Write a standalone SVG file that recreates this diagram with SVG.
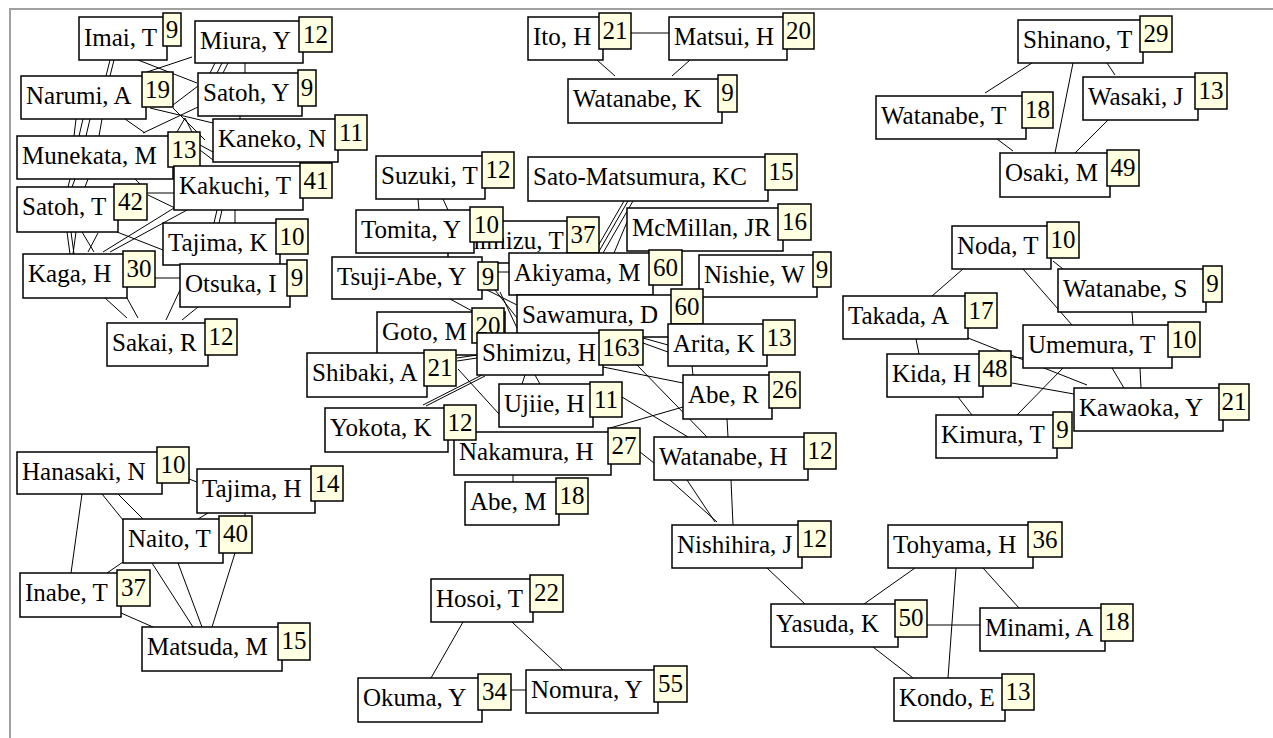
<svg xmlns="http://www.w3.org/2000/svg" width="1273" height="738" viewBox="0 0 1273 738">
<style>
.b{fill:#fff;stroke:#000;stroke-width:1.5}
.c{fill:#ffffe1;stroke:#000;stroke-width:1.5}
text{font-family:"Liberation Serif","Times New Roman",serif;font-size:25px;fill:#000}
.m{text-anchor:middle}
#edges line{stroke:#000;stroke-width:1}
</style>
<rect x="0" y="0" width="1273" height="738" fill="#fff"/>
<path d="M10,738 V9 H1273" fill="none" stroke="#a0a0a0" stroke-width="2"/>
<g id="edges">
<line x1="110" y1="60" x2="106" y2="76"/><line x1="114" y1="60" x2="110" y2="76"/>
<line x1="138" y1="60" x2="197" y2="83"/>
<line x1="192" y1="57" x2="147" y2="72"/>
<line x1="215" y1="63" x2="210" y2="73"/><line x1="222" y1="63" x2="217" y2="73"/><line x1="228" y1="63" x2="223" y2="73"/>
<line x1="245" y1="63" x2="245" y2="73"/>
<line x1="173" y1="105" x2="198" y2="86"/>
<line x1="76" y1="119" x2="74" y2="136"/><line x1="83" y1="119" x2="79" y2="136"/><line x1="90" y1="119" x2="86" y2="136"/><line x1="102" y1="119" x2="99" y2="136"/>
<line x1="125" y1="119" x2="145" y2="133"/>
<line x1="198" y1="107" x2="143" y2="133"/>
<line x1="150" y1="108" x2="213" y2="123"/>
<line x1="173" y1="108" x2="205" y2="140"/>
<line x1="185" y1="118" x2="177" y2="132"/><line x1="185" y1="118" x2="192" y2="132"/>
<line x1="240" y1="116" x2="240" y2="119"/>
<line x1="200" y1="145" x2="213" y2="152"/><line x1="200" y1="150" x2="213" y2="160"/>
<line x1="70" y1="179" x2="68" y2="187"/><line x1="75" y1="179" x2="72" y2="187"/><line x1="88" y1="179" x2="85" y2="187"/>
<line x1="135" y1="179" x2="140" y2="184"/>
<line x1="147" y1="193" x2="174" y2="193"/>
<line x1="148" y1="195" x2="175" y2="208"/>
<line x1="67" y1="232" x2="70" y2="254"/><line x1="71" y1="232" x2="74" y2="254"/><line x1="76" y1="232" x2="73" y2="254"/>
<line x1="82" y1="232" x2="94" y2="252"/><line x1="98" y1="233" x2="88" y2="252"/>
<line x1="103" y1="252" x2="174" y2="208"/>
<line x1="110" y1="252" x2="187" y2="210"/>
<line x1="117" y1="232" x2="163" y2="250"/>
<line x1="217" y1="210" x2="214" y2="223"/><line x1="222" y1="210" x2="219" y2="223"/>
<line x1="235" y1="210" x2="235" y2="223"/>
<line x1="155" y1="278" x2="180" y2="278"/>
<line x1="105" y1="298" x2="127" y2="318"/><line x1="127" y1="298" x2="138" y2="318"/>
<line x1="180" y1="290" x2="166" y2="320"/>
<line x1="198" y1="307" x2="182" y2="320"/>
<line x1="631" y1="33" x2="669" y2="33"/>
<line x1="597" y1="60" x2="615" y2="76"/>
<line x1="690" y1="60" x2="672" y2="76"/>
<line x1="1032" y1="63" x2="985" y2="93"/>
<line x1="1073" y1="63" x2="1055" y2="153"/>
<line x1="1107" y1="63" x2="1115" y2="75"/>
<line x1="997" y1="139" x2="1013" y2="151"/>
<line x1="1108" y1="120" x2="1075" y2="153"/>
<line x1="418" y1="199" x2="419" y2="210"/><line x1="443" y1="199" x2="448" y2="210"/>
<line x1="624" y1="201" x2="594" y2="253"/><line x1="628" y1="201" x2="598" y2="253"/><line x1="633" y1="201" x2="603" y2="253"/>
<line x1="627" y1="222" x2="614" y2="253"/>
<line x1="498" y1="272" x2="509" y2="272"/>
<line x1="450" y1="299" x2="474" y2="312"/>
<line x1="485" y1="289" x2="517" y2="305"/><line x1="495" y1="290" x2="517" y2="318"/><line x1="500" y1="292" x2="517" y2="328"/>
<line x1="693" y1="297" x2="703" y2="290"/>
<line x1="457" y1="358" x2="477" y2="355"/><line x1="457" y1="361" x2="477" y2="358"/>
<line x1="423" y1="405" x2="482" y2="375"/><line x1="426" y1="406" x2="485" y2="376"/>
<line x1="458" y1="369" x2="499" y2="414"/>
<line x1="643" y1="338" x2="668" y2="345"/><line x1="643" y1="343" x2="668" y2="352"/>
<line x1="603" y1="367" x2="683" y2="383"/>
<line x1="637" y1="365" x2="707" y2="437"/>
<line x1="622" y1="397" x2="688" y2="437"/>
<line x1="683" y1="407" x2="610" y2="428"/>
<line x1="640" y1="452" x2="654" y2="463"/>
<line x1="727" y1="419" x2="728" y2="437"/>
<line x1="692" y1="366" x2="693" y2="375"/>
<line x1="513" y1="475" x2="513" y2="482"/>
<line x1="525" y1="375" x2="522" y2="384"/><line x1="535" y1="375" x2="540" y2="384"/>
<line x1="670" y1="480" x2="717" y2="522"/><line x1="687" y1="480" x2="715" y2="522"/><line x1="731" y1="480" x2="733" y2="525"/>
<line x1="963" y1="269" x2="932" y2="296"/>
<line x1="1023" y1="269" x2="1072" y2="325"/>
<line x1="1053" y1="261" x2="1063" y2="269"/>
<line x1="1132" y1="312" x2="1133" y2="325"/>
<line x1="916" y1="339" x2="919" y2="354"/>
<line x1="968" y1="338" x2="1087" y2="385"/>
<line x1="1012" y1="383" x2="1074" y2="394"/>
<line x1="1011" y1="357" x2="1023" y2="358"/>
<line x1="958" y1="397" x2="972" y2="415"/>
<line x1="1063" y1="368" x2="1017" y2="415"/>
<line x1="1112" y1="368" x2="1124" y2="388"/>
<line x1="1140" y1="368" x2="1141" y2="388"/>
<line x1="82" y1="494" x2="71" y2="573"/>
<line x1="102" y1="494" x2="123" y2="520"/>
<line x1="118" y1="494" x2="143" y2="519"/>
<line x1="189" y1="479" x2="197" y2="482"/>
<line x1="208" y1="513" x2="198" y2="519"/>
<line x1="245" y1="513" x2="245" y2="516"/>
<line x1="123" y1="562" x2="107" y2="573"/>
<line x1="152" y1="563" x2="193" y2="627"/>
<line x1="178" y1="563" x2="202" y2="627"/>
<line x1="235" y1="553" x2="212" y2="627"/>
<line x1="121" y1="613" x2="153" y2="627"/>
<line x1="463" y1="622" x2="431" y2="678"/>
<line x1="512" y1="622" x2="563" y2="670"/>
<line x1="511" y1="690" x2="526" y2="690"/>
<line x1="767" y1="568" x2="805" y2="604"/>
<line x1="915" y1="568" x2="864" y2="604"/>
<line x1="956" y1="568" x2="948" y2="678"/>
<line x1="983" y1="568" x2="1019" y2="608"/>
<line x1="927" y1="625" x2="980" y2="625"/>
<line x1="873" y1="647" x2="913" y2="678"/>
</g>
<g id="n-imai"><rect class="b" x="79" y="17" width="88" height="43"/><text x="84" y="46">Imai, T</text><rect class="c" x="163" y="13" width="18" height="33"/><text class="m" x="172" y="38">9</text></g>
<g id="n-miura"><rect class="b" x="195" y="21" width="108" height="42"/><text x="200" y="49">Miura, Y</text><rect class="c" x="299" y="17" width="33" height="35"/><text class="m" x="315.5" y="43">12</text></g>
<g id="n-narumi"><rect class="b" x="21" y="76" width="125" height="43"/><text x="26" y="104">Narumi, A</text><rect class="c" x="142" y="72" width="31" height="35"/><text class="m" x="157.5" y="98">19</text></g>
<g id="n-satohy"><rect class="b" x="198" y="73" width="104" height="43"/><text x="203" y="101">Satoh, Y</text><rect class="c" x="298" y="70" width="18" height="36"/><text class="m" x="307" y="96">9</text></g>
<g id="n-kaneko"><rect class="b" x="213" y="119" width="125" height="43"/><text x="218" y="147">Kaneko, N</text><rect class="c" x="335" y="115" width="32" height="35"/><text class="m" x="351" y="141">11</text></g>
<g id="n-munekata"><rect class="b" x="17" y="136" width="156" height="43"/><text x="22" y="164">Munekata, M</text><rect class="c" x="168" y="132" width="32" height="35"/><text class="m" x="184" y="158">13</text></g>
<g id="n-kakuchi"><rect class="b" x="174" y="166" width="129" height="44"/><text x="179" y="194">Kakuchi, T</text><rect class="c" x="300" y="163" width="32" height="35"/><text class="m" x="316" y="189">41</text></g>
<g id="n-satoht"><rect class="b" x="17" y="187" width="101" height="45"/><text x="22" y="215">Satoh, T</text><rect class="c" x="114" y="184" width="33" height="36"/><text class="m" x="130.5" y="210">42</text></g>
<g id="n-tajimak"><rect class="b" x="163" y="223" width="117" height="42"/><text x="168" y="251">Tajima, K</text><rect class="c" x="276" y="219" width="32" height="35"/><text class="m" x="292" y="245">10</text></g>
<g id="n-kaga"><rect class="b" x="23" y="254" width="104" height="44"/><text x="28" y="282">Kaga, H</text><rect class="c" x="123" y="251" width="32" height="36"/><text class="m" x="139" y="277">30</text></g>
<g id="n-otsuka"><rect class="b" x="180" y="264" width="110" height="43"/><text x="185" y="292">Otsuka, I</text><rect class="c" x="287" y="260" width="20" height="36"/><text class="m" x="297" y="286">9</text></g>
<g id="n-sakai"><rect class="b" x="107" y="323" width="101" height="43"/><text x="112" y="351">Sakai, R</text><rect class="c" x="205" y="319" width="32" height="36"/><text class="m" x="221" y="345">12</text></g>
<g id="n-ito"><rect class="b" x="528" y="17" width="75" height="43"/><text x="533" y="45">Ito, H</text><rect class="c" x="599" y="13" width="32" height="36"/><text class="m" x="615" y="39">21</text></g>
<g id="n-matsui"><rect class="b" x="669" y="17" width="118" height="43"/><text x="674" y="45">Matsui, H</text><rect class="c" x="783" y="13" width="31" height="36"/><text class="m" x="798.5" y="39">20</text></g>
<g id="n-watanabek"><rect class="b" x="568" y="79" width="154" height="44"/><text x="573" y="107">Watanabe, K</text><rect class="c" x="718" y="75" width="19" height="37"/><text class="m" x="727.5" y="101">9</text></g>
<g id="n-shinano"><rect class="b" x="1018" y="20" width="125" height="43"/><text x="1023" y="48">Shinano, T</text><rect class="c" x="1140" y="16" width="32" height="36"/><text class="m" x="1156" y="42">29</text></g>
<g id="n-watanabet"><rect class="b" x="876" y="96" width="150" height="43"/><text x="881" y="124">Watanabe, T</text><rect class="c" x="1022" y="92" width="31" height="36"/><text class="m" x="1037.5" y="118">18</text></g>
<g id="n-wasaki"><rect class="b" x="1083" y="77" width="115" height="43"/><text x="1088" y="105">Wasaki, J</text><rect class="c" x="1195" y="73" width="32" height="36"/><text class="m" x="1211" y="99">13</text></g>
<g id="n-osaki"><rect class="b" x="1000" y="153" width="110" height="44"/><text x="1005" y="181">Osaki, M</text><rect class="c" x="1107" y="150" width="32" height="36"/><text class="m" x="1123" y="176">49</text></g>
<g id="n-suzuki"><rect class="b" x="376" y="156" width="109" height="43"/><text x="381" y="184">Suzuki, T</text><rect class="c" x="482" y="152" width="32" height="36"/><text class="m" x="498" y="178">12</text></g>
<g id="n-shimizut"><rect class="b" x="448" y="221" width="122" height="42"/><text x="453" y="249">Shimizu, T</text><rect class="c" x="567" y="217" width="32" height="36"/><text class="m" x="583" y="243">37</text></g>
<g id="n-tomita"><rect class="b" x="356" y="210" width="118" height="43"/><text x="361" y="238">Tomita, Y</text><rect class="c" x="470" y="207" width="33" height="35"/><text class="m" x="486.5" y="233">10</text></g>
<g id="n-satom"><rect class="b" x="528" y="157" width="240" height="44"/><text x="533" y="185">Sato-Matsumura, KC</text><rect class="c" x="765" y="154" width="32" height="36"/><text class="m" x="781" y="180">15</text></g>
<g id="n-mcmillan"><rect class="b" x="627" y="208" width="156" height="43"/><text x="632" y="236">McMillan, JR</text><rect class="c" x="778" y="204" width="33" height="36"/><text class="m" x="794.5" y="230">16</text></g>
<g id="n-tsujiabe"><rect class="b" x="332" y="257" width="150" height="42"/><text x="337" y="285">Tsuji-Abe, Y</text><rect class="c" x="478" y="262" width="20" height="28"/><text class="m" x="488" y="285">9</text></g>
<g id="n-akiyama"><rect class="b" x="509" y="253" width="144" height="42"/><text x="514" y="281">Akiyama, M</text><rect class="c" x="649" y="250" width="33" height="35"/><text class="m" x="665.5" y="276">60</text></g>
<g id="n-nishie"><rect class="b" x="699" y="255" width="118" height="42"/><text x="704" y="283">Nishie, W</text><rect class="c" x="813" y="252" width="18" height="35"/><text class="m" x="822" y="278">9</text></g>
<g id="n-goto"><rect class="b" x="377" y="312" width="128" height="43"/><text x="382" y="340">Goto, M</text><rect class="c" x="472" y="308" width="32" height="35"/><text class="m" x="488" y="334">20</text></g>
<g id="n-sawamura"><rect class="b" x="517" y="295" width="158" height="42"/><text x="522" y="323">Sawamura, D</text><rect class="c" x="671" y="289" width="32" height="35"/><text class="m" x="687" y="315">60</text></g>
<g id="n-arita"><rect class="b" x="668" y="324" width="99" height="42"/><text x="673" y="352">Arita, K</text><rect class="c" x="763" y="320" width="32" height="35"/><text class="m" x="779" y="346">13</text></g>
<g id="n-shimizuh"><rect class="b" x="477" y="333" width="126" height="42"/><text x="482" y="361">Shimizu, H</text><rect class="c" x="599" y="330" width="44" height="35"/><text class="m" x="621" y="356">163</text></g>
<g id="n-shibaki"><rect class="b" x="307" y="353" width="120" height="44"/><text x="312" y="381">Shibaki, A</text><rect class="c" x="424" y="350" width="32" height="36"/><text class="m" x="440" y="376">21</text></g>
<g id="n-ujiie"><rect class="b" x="499" y="384" width="94" height="43"/><text x="504" y="412">Ujiie, H</text><rect class="c" x="590" y="382" width="32" height="35"/><text class="m" x="606" y="408">11</text></g>
<g id="n-aber"><rect class="b" x="683" y="375" width="89" height="44"/><text x="688" y="403">Abe, R</text><rect class="c" x="769" y="372" width="31" height="36"/><text class="m" x="784.5" y="398">26</text></g>
<g id="n-nakamura"><rect class="b" x="454" y="432" width="157" height="43"/><text x="459" y="460">Nakamura, H</text><rect class="c" x="608" y="428" width="32" height="36"/><text class="m" x="624" y="454">27</text></g>
<g id="n-yokota"><rect class="b" x="325" y="408" width="123" height="44"/><text x="330" y="436">Yokota, K</text><rect class="c" x="444" y="405" width="32" height="35"/><text class="m" x="460" y="431">12</text></g>
<g id="n-watanabeh"><rect class="b" x="654" y="437" width="154" height="43"/><text x="659" y="465">Watanabe, H</text><rect class="c" x="804" y="433" width="32" height="36"/><text class="m" x="820" y="459">12</text></g>
<g id="n-abem"><rect class="b" x="465" y="482" width="94" height="43"/><text x="470" y="510">Abe, M</text><rect class="c" x="556" y="478" width="32" height="36"/><text class="m" x="572" y="504">18</text></g>
<g id="n-nishihira"><rect class="b" x="672" y="525" width="130" height="43"/><text x="677" y="553">Nishihira, J</text><rect class="c" x="798" y="521" width="33" height="36"/><text class="m" x="814.5" y="547">12</text></g>
<g id="n-noda"><rect class="b" x="952" y="226" width="99" height="43"/><text x="957" y="254">Noda, T</text><rect class="c" x="1047" y="222" width="32" height="36"/><text class="m" x="1063" y="248">10</text></g>
<g id="n-watanabes"><rect class="b" x="1058" y="269" width="148" height="43"/><text x="1063" y="297">Watanabe, S</text><rect class="c" x="1203" y="266" width="19" height="36"/><text class="m" x="1212.5" y="292">9</text></g>
<g id="n-takada"><rect class="b" x="843" y="296" width="125" height="43"/><text x="848" y="324">Takada, A</text><rect class="c" x="965" y="293" width="32" height="35"/><text class="m" x="981" y="319">17</text></g>
<g id="n-umemura"><rect class="b" x="1023" y="325" width="149" height="43"/><text x="1028" y="353">Umemura, T</text><rect class="c" x="1168" y="322" width="32" height="35"/><text class="m" x="1184" y="348">10</text></g>
<g id="n-kida"><rect class="b" x="887" y="354" width="96" height="43"/><text x="892" y="382">Kida, H</text><rect class="c" x="979" y="351" width="32" height="35"/><text class="m" x="995" y="377">48</text></g>
<g id="n-kawaoka"><rect class="b" x="1074" y="388" width="149" height="43"/><text x="1079" y="416">Kawaoka, Y</text><rect class="c" x="1219" y="384" width="30" height="36"/><text class="m" x="1234" y="410">21</text></g>
<g id="n-kimura"><rect class="b" x="936" y="415" width="121" height="43"/><text x="941" y="443">Kimura, T</text><rect class="c" x="1053" y="412" width="19" height="36"/><text class="m" x="1062.5" y="438">9</text></g>
<g id="n-hanasaki"><rect class="b" x="17" y="452" width="145" height="42"/><text x="22" y="480">Hanasaki, N</text><rect class="c" x="157" y="447" width="32" height="36"/><text class="m" x="173" y="473">10</text></g>
<g id="n-tajimah"><rect class="b" x="197" y="469" width="118" height="44"/><text x="202" y="497">Tajima, H</text><rect class="c" x="311" y="466" width="32" height="35"/><text class="m" x="327" y="492">14</text></g>
<g id="n-naito"><rect class="b" x="123" y="519" width="100" height="44"/><text x="128" y="547">Naito, T</text><rect class="c" x="219" y="516" width="33" height="37"/><text class="m" x="235.5" y="542">40</text></g>
<g id="n-inabe"><rect class="b" x="20" y="573" width="101" height="44"/><text x="25" y="601">Inabe, T</text><rect class="c" x="117" y="570" width="33" height="36"/><text class="m" x="133.5" y="596">37</text></g>
<g id="n-matsuda"><rect class="b" x="142" y="627" width="140" height="44"/><text x="147" y="655">Matsuda, M</text><rect class="c" x="278" y="623" width="32" height="37"/><text class="m" x="294" y="649">15</text></g>
<g id="n-hosoi"><rect class="b" x="431" y="579" width="102" height="43"/><text x="436" y="607">Hosoi, T</text><rect class="c" x="530" y="575" width="33" height="37"/><text class="m" x="546.5" y="601">22</text></g>
<g id="n-okuma"><rect class="b" x="358" y="678" width="124" height="44"/><text x="363" y="706">Okuma, Y</text><rect class="c" x="478" y="674" width="33" height="36"/><text class="m" x="494.5" y="700">34</text></g>
<g id="n-nomura"><rect class="b" x="526" y="670" width="132" height="43"/><text x="531" y="698">Nomura, Y</text><rect class="c" x="654" y="666" width="33" height="36"/><text class="m" x="670.5" y="692">55</text></g>
<g id="n-tohyama"><rect class="b" x="888" y="525" width="145" height="43"/><text x="893" y="553">Tohyama, H</text><rect class="c" x="1028" y="522" width="34" height="35"/><text class="m" x="1045" y="548">36</text></g>
<g id="n-yasuda"><rect class="b" x="771" y="604" width="127" height="43"/><text x="776" y="632">Yasuda, K</text><rect class="c" x="895" y="600" width="32" height="37"/><text class="m" x="911" y="626">50</text></g>
<g id="n-minami"><rect class="b" x="980" y="608" width="125" height="43"/><text x="985" y="636">Minami, A</text><rect class="c" x="1101" y="604" width="32" height="37"/><text class="m" x="1117" y="630">18</text></g>
<g id="n-kondo"><rect class="b" x="894" y="678" width="111" height="43"/><text x="899" y="706">Kondo, E</text><rect class="c" x="1002" y="674" width="32" height="36"/><text class="m" x="1018" y="700">13</text></g>
</svg>
